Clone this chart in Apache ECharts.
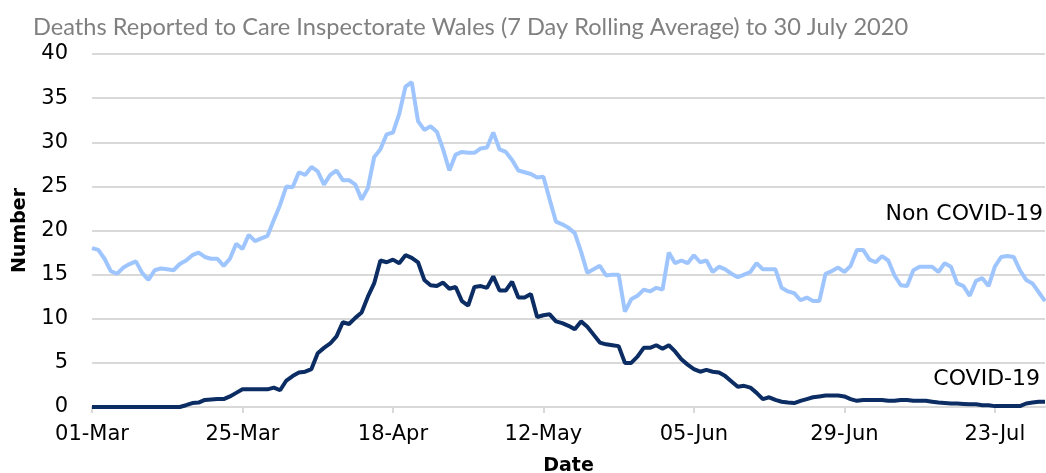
<!DOCTYPE html>
<html>
<head>
<meta charset="utf-8">
<script src="https://cdn.jsdelivr.net/npm/echarts@6/dist/echarts.min.js"></script>
<style>
  html, body { margin: 0; padding: 0; background: #ffffff; }
  #chart { width: 1046px; height: 473px; }
</style>
</head>
<body>
<div id="chart"></div>
<script>
// Category dates: 01-Mar to 31-Jul 2020 (daily)
const startDate = { year: 2020, month: 2, day: 1 };
const dayCount = 153;
const monthNames = ['Jan','Feb','Mar','Apr','May','Jun','Jul','Aug','Sep','Oct','Nov','Dec'];
const categories = [];
for (let i = 0; i < dayCount; i++) {
  const d = new Date(Date.UTC(startDate.year, startDate.month, startDate.day + i));
  categories.push(String(d.getUTCDate()).padStart(2, '0') + '-' + monthNames[d.getUTCMonth()]);
}

const tickLabels = ['01-Mar', '25-Mar', '18-Apr', '12-May', '05-Jun', '29-Jun', '23-Jul'];
const yTicks = [0, 5, 10, 15, 20, 25, 30, 35, 40];

const nonCovid = [
  18.0, 17.8, 16.8, 15.4, 15.1, 15.8, 16.2, 16.5, 15.2, 14.4,
  15.5, 15.7, 15.6, 15.5, 16.2, 16.6, 17.2, 17.5, 17.0, 16.8,
  16.8, 16.0, 16.8, 18.5, 17.9, 19.5, 18.8, 19.1, 19.4, 21.2,
  22.9, 25.0, 24.9, 26.6, 26.3, 27.2, 26.7, 25.2, 26.3, 26.8,
  25.7, 25.7, 25.2, 23.5, 24.8, 28.3, 29.2, 30.9, 31.1, 33.2,
  36.3, 36.8, 32.4, 31.4, 31.8, 31.2, 29.2, 26.8, 28.6, 28.9,
  28.8, 28.8, 29.3, 29.4, 31.1, 29.2, 28.9, 28.0, 26.8, 26.6,
  26.4, 26.0, 26.1, 23.5, 21.0, 20.7, 20.3, 19.7, 17.6, 15.2,
  15.6, 16.0, 14.9, 15.0, 15.0, 10.8, 12.2, 12.6, 13.3, 13.1,
  13.5, 13.3, 17.5, 16.3, 16.6, 16.3, 17.2, 16.4, 16.6, 15.3,
  15.9, 15.6, 15.1, 14.7, 15.0, 15.3, 16.3, 15.6, 15.6, 15.6,
  13.5, 13.1, 12.9, 12.1, 12.4, 12.0, 12.0, 15.1, 15.4, 15.8,
  15.3, 16.0, 17.8, 17.8, 16.7, 16.4, 17.1, 16.6, 14.9, 13.8,
  13.7, 15.5, 15.9, 15.9, 15.9, 15.3, 16.3, 15.9, 14.0, 13.7,
  12.6, 14.3, 14.6, 13.7, 15.9, 17.0, 17.1, 17.0, 15.5, 14.4,
  14.0, 13.0, 12.0
];

const covid = [
  0, 0, 0, 0, 0, 0, 0, 0, 0, 0,
  0, 0, 0, 0, 0, 0.2, 0.45, 0.5, 0.8, 0.85,
  0.9, 0.9, 1.2, 1.6, 2.0, 2.0, 2.0, 2.0, 2.0, 2.2,
  1.9, 3.0, 3.5, 3.9, 4.0, 4.3, 6.1, 6.7, 7.2, 8.0,
  9.6, 9.4, 10.1, 10.7, 12.5, 14.0, 16.6, 16.4, 16.7, 16.3,
  17.2, 16.9, 16.4, 14.4, 13.8, 13.7, 14.1, 13.4, 13.6, 12.0,
  11.5, 13.6, 13.7, 13.5, 14.8, 13.2, 13.2, 14.2, 12.4, 12.4,
  12.8, 10.2, 10.4, 10.5, 9.7, 9.5, 9.2, 8.8, 9.7, 9.1,
  8.2, 7.3, 7.1, 7.0, 6.9, 5.0, 5.0, 5.7, 6.7, 6.7,
  7.0, 6.6, 7.0, 6.3, 5.4, 4.8, 4.3, 4.0, 4.2, 4.0,
  3.9, 3.5, 2.9, 2.3, 2.4, 2.2, 1.6, 0.9, 1.1, 0.8,
  0.6, 0.5, 0.45, 0.7, 0.9, 1.1, 1.2, 1.3, 1.3, 1.3,
  1.2, 0.9, 0.7, 0.8, 0.8, 0.8, 0.8, 0.7, 0.7, 0.8,
  0.8, 0.7, 0.7, 0.7, 0.6, 0.5, 0.45, 0.4, 0.4, 0.35,
  0.3, 0.3, 0.2, 0.2, 0.1, 0.1, 0.1, 0.1, 0.1, 0.4,
  0.5, 0.6, 0.6
];

const seriesNames = ['Non COVID-19', 'COVID-19'];
const titleText = 'Deaths Reported to Care Inspectorate Wales (7 Day Rolling Average) to 30 July 2020';

const chart = echarts.init(document.getElementById('chart'), null, { renderer: 'canvas' });

const labelFont = '"DejaVu Sans", sans-serif';

chart.setOption({
  animation: false,
  backgroundColor: '#ffffff',
  title: {
    text: titleText,
    left: 28,
    top: 10,
    textStyle: {
      fontFamily: 'Lato, sans-serif',
      fontSize: 23.6,
      fontWeight: 'normal',
      color: '#808080'
    }
  },
  grid: { left: 92, right: 1, top: 54, bottom: 66, containLabel: false, outerBoundsMode: 'none' },
  xAxis: {
    type: 'category',
    data: categories,
    boundaryGap: false,
    name: 'Date',
    nameLocation: 'middle',
    nameGap: 50,
    nameTextStyle: { fontFamily: labelFont, fontSize: 19, fontWeight: 'bold', color: '#000' },
    axisLine: { show: true, lineStyle: { color: '#d9d9d9', width: 2 } },
    axisTick: {
      show: true,
      interval: function (idx, val) { return tickLabels.indexOf(val) >= 0; },
      length: 6,
      lineStyle: { color: '#d9d9d9', width: 2 }
    },
    axisLabel: {
      interval: function (idx, val) { return tickLabels.indexOf(val) >= 0; },
      margin: 17,
      fontFamily: labelFont,
      fontSize: 21,
      color: '#000'
    },
    splitLine: { show: false }
  },
  yAxis: {
    type: 'value',
    min: yTicks[0],
    max: yTicks[yTicks.length - 1],
    interval: 5,
    name: 'Number',
    nameLocation: 'middle',
    nameGap: 62,
    nameRotate: 90,
    nameTextStyle: { fontFamily: labelFont, fontSize: 19, fontWeight: 'bold', color: '#000' },
    axisLine: { show: false },
    axisTick: { show: false },
    axisLabel: { margin: 24, fontFamily: labelFont, fontSize: 21, color: '#000' },
    splitLine: { show: true, lineStyle: { color: '#d9d9d9', width: 2 } }
  },
  series: [
    {
      name: seriesNames[0],
      type: 'line',
      data: nonCovid,
      symbol: 'none',
      smooth: false,
      lineStyle: { color: '#9fc5fe', width: 4 },
      itemStyle: { color: '#9fc5fe' },
      z: 3
    },
    {
      name: seriesNames[1],
      type: 'line',
      data: covid,
      symbol: 'none',
      smooth: false,
      lineStyle: { color: '#0b2d63', width: 4 },
      itemStyle: { color: '#0b2d63' },
      z: 4
    }
  ],
  graphic: [
    {
      type: 'text',
      right: 3,
      top: 203,
      style: { text: seriesNames[0], fontFamily: labelFont, fontSize: 22, fill: '#000' }
    },
    {
      type: 'text',
      right: 6,
      top: 368,
      style: { text: seriesNames[1], fontFamily: labelFont, fontSize: 22, fill: '#000' }
    }
  ]
});
</script>
</body>
</html>
